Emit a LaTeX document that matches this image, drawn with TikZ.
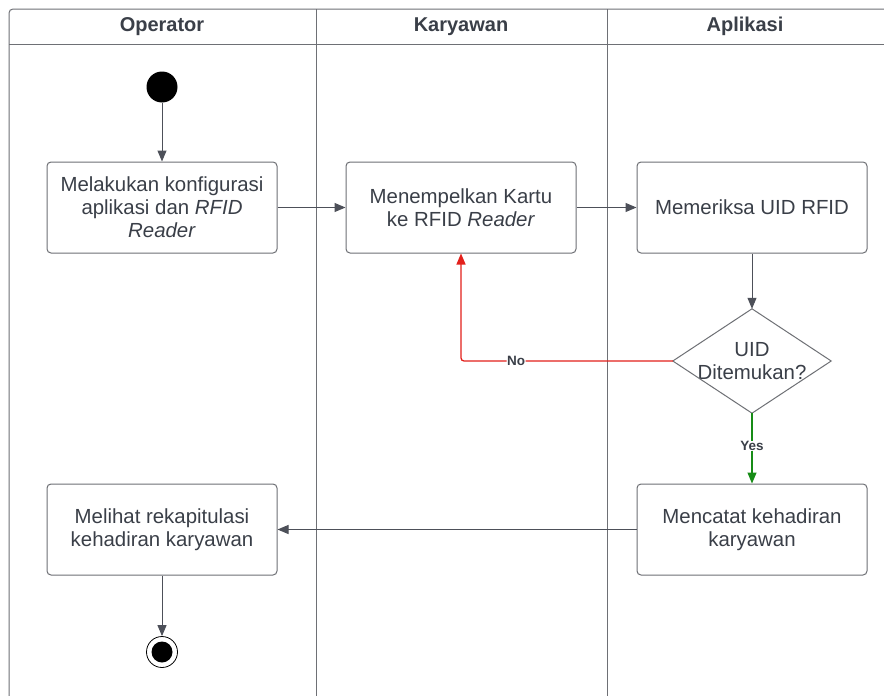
\documentclass[tikz,border=0pt]{standalone}
\usepackage{fontspec}
\setmainfont{Liberation Sans}
\usetikzlibrary{arrows.meta}
\definecolor{linegray}{HTML}{4D5059}
\definecolor{boxgray}{HTML}{6E7075}
\definecolor{txtgray}{HTML}{3A3F48}
\definecolor{nored}{HTML}{E3201B}
\definecolor{yesgreen}{HTML}{178C17}
\tikzset{
  actbox/.style={draw=boxgray, line width=1pt, rounded corners=4pt, minimum width=230pt, minimum height=91pt, align=center, text=txtgray, font=\fontsize{20.4}{23}\selectfont, inner sep=2pt},
  dectext/.style={minimum width=158pt, minimum height=104pt, align=center, text=txtgray, font=\fontsize{20.4}{23}\selectfont, inner sep=0pt},
  flow/.style={draw=linegray, line width=1pt, -{Triangle[length=11pt,width=9pt]}},
  lanehead/.style={font=\fontsize{20}{24}\selectfont\bfseries, text=txtgray},
  lbl/.style={font=\fontsize{13.5}{16}\selectfont\bfseries, text=txtgray, fill=white, inner sep=0.5pt}
}
\begin{document}
\begin{tikzpicture}[x=1pt,y=-1pt]
\useasboundingbox (0,0) rectangle (884,696);
\clip (0,0) rectangle (884,696);
\fill[white] (0,0) rectangle (884,696);
% pool
\draw[boxgray, line width=1pt, rounded corners=4pt] (9,710) -- (9,9) -- (900,9);
\draw[boxgray, line width=1pt] (9,44) -- (900,44);
\draw[boxgray, line width=1pt] (316,9) -- (316,710);
\draw[boxgray, line width=1pt] (607,9) -- (607,710);
\node[lanehead] (h1) at (162,26.5) {Operator};
\node[lanehead] (h2) at (461,26.5) {Karyawan};
\node[lanehead] (h3) at (745,26.5) {Aplikasi};
% nodes
\node[circle, fill=black, minimum size=31pt, inner sep=0pt] (start) at (162,87) {};
\node[actbox] (b1) at (162,207.5) {Melakukan konfigurasi\\aplikasi dan \textit{RFID}\\\textit{Reader}};
\node[actbox] (b2) at (461,207.5) {Menempelkan Kartu\\ke RFID \textit{Reader}};
\node[actbox] (b3) at (752,207.5) {Memeriksa UID RFID};
\node[dectext] (d) at (752,361) {UID\\Ditemukan?};
\draw[boxgray, line width=1pt] (d.north) -- (d.east) -- (d.south) -- (d.west) -- cycle;
\node[actbox] (b4) at (752,529.5) {Mencatat kehadiran\\karyawan};
\node[actbox] (b5) at (162,529.5) {Melihat rekapitulasi\\kehadiran karyawan};
\node[circle, draw=black, line width=0.8pt, minimum size=31pt, inner sep=0pt] (endo) at (162,652) {};
\node[circle, fill=black, minimum size=21pt, inner sep=0pt] (endi) at (162,652) {};
% connectors
\draw[flow] (start) -- (b1);
\draw[flow] (b1) -- (b2);
\draw[flow] (b2) -- (b3);
\draw[flow] (b3) -- (d.north);
\draw[flow, draw=yesgreen, line width=1.3pt] (d.south) -- node[lbl, pos=0.47]{Yes} (b4.north);
\draw[flow, draw=nored, line width=1.3pt, rounded corners=3pt] (d.west) -- node[lbl, pos=0.74]{No} (461,361) -- (b2.south);
\draw[flow] (b4) -- (b5);
\draw[flow] (b5) -- (endo);
\end{tikzpicture}
\end{document}
